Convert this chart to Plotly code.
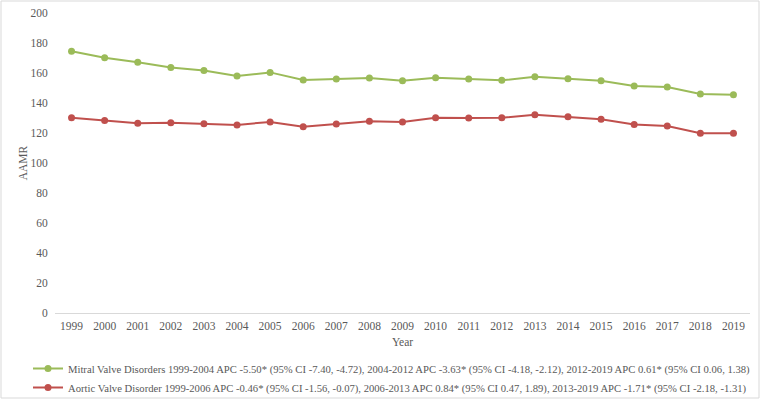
import plotly.graph_objects as go

# AAMR by year
years = [str(y) for y in range(1999, 2020)]
mitral = [174.5, 170.2, 167.1, 163.6, 161.6, 158.0, 160.4, 155.3, 156.0, 156.7,
          154.8, 156.8, 156.0, 155.1, 157.5, 156.2, 154.8, 151.3, 150.6, 146.0, 145.5]
aortic = [130.1, 128.4, 126.5, 126.9, 126.2, 125.4, 127.4, 124.1, 126.0, 127.8,
          127.4, 130.2, 130.0, 130.2, 132.2, 130.9, 129.2, 125.6, 124.7, 119.9, 119.9]

mitral_name = ("Mitral Valve Disorders 1999-2004 APC -5.50* (95% CI -7.40, -4.72), "
               "2004-2012 APC -3.63* (95% CI -4.18, -2.12), 2012-2019 APC 0.61* (95% CI 0.06, 1.38)")
aortic_name = ("Aortic Valve Disorder 1999-2006 APC -0.46* (95% CI -1.56, -0.07), "
               "2006-2013 APC 0.84* (95% CI 0.47, 1.89), 2013-2019 APC -1.71* (95% CI -2.18, -1.31)")

green = "#9BBB59"
red = "#C0504D"
grey = "#595959"

fig = go.Figure()
fig.add_trace(go.Scatter(x=years, y=mitral, name=mitral_name, mode="lines+markers",
                         line=dict(color=green, width=2), marker=dict(color=green, size=7)))
fig.add_trace(go.Scatter(x=years, y=aortic, name=aortic_name, mode="lines+markers",
                         line=dict(color=red, width=2), marker=dict(color=red, size=7)))

# plot area is roughly x 55..750, y 13..313 in a 762x403 window
L, R, T, B = 55, 12, 13, 90
W, H = 762, 403
pw, ph = W - L - R, H - T - B

fig.update_layout(
    width=W, height=H,
    margin=dict(l=L, r=R, t=T, b=B, autoexpand=False),
    paper_bgcolor="white", plot_bgcolor="white",
    font=dict(family="Liberation Serif", size=11.5, color=grey),
    xaxis=dict(type="category", range=[-0.5, 20.5], showgrid=False, zeroline=False,
               showline=True, linecolor="#d9d9d9", linewidth=1,
               ticks="outside", ticklen=2, tickcolor="white", automargin=False,
               title=dict(text="Year", font=dict(size=11.5), standoff=7)),
    yaxis=dict(range=[0, 200], dtick=20, showgrid=False, zeroline=False, showline=False,
               ticks="outside", ticklen=4, tickcolor="white", automargin=False,
               title=dict(text="AAMR", font=dict(size=11.5), standoff=0)),
    legend=dict(orientation="v", x=(28 - L) / pw, xanchor="left",
                yref="container", y=1 - 354 / H, yanchor="top",
                font=dict(size=10.65, color=grey), tracegroupgap=0, bgcolor="rgba(0,0,0,0)"),
    shapes=[dict(type="rect", xref="paper", yref="paper",
                 x0=(1 - L) / pw, x1=(759 - L) / pw,
                 y0=(T + ph - 398) / ph, y1=(T + ph - 1) / ph,
                 line=dict(color="#d9d9d9", width=1), layer="below")],
)

# drop the browser's default 8px body margin so the chart sits at the window corner
fig.write_html("out.html", config={"displayModeBar": False},
               post_script="document.body.style.margin='0px';")
